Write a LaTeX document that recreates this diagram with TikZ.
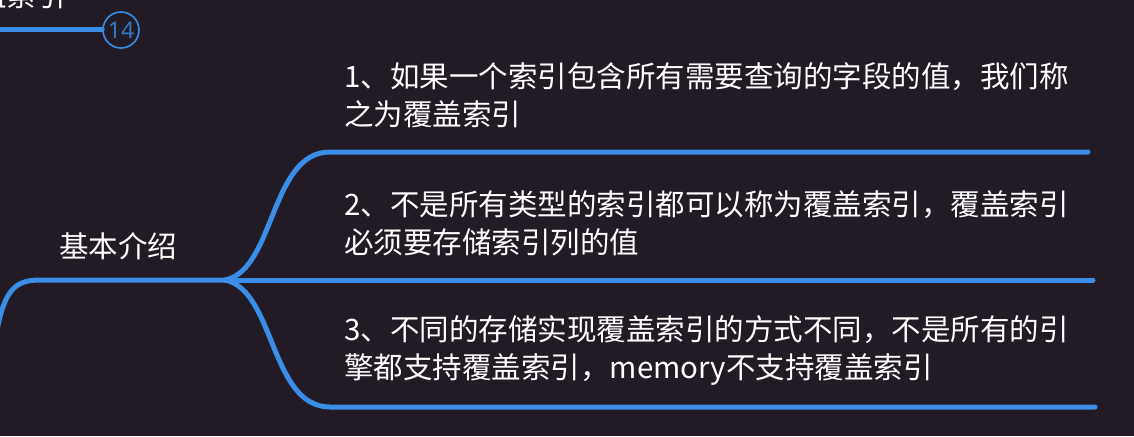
\documentclass[tikz,border=0pt]{standalone}
\usepackage{fontspec}
\newfontfamily\cjk{Noto Sans CJK SC}
\definecolor{bg}{HTML}{221A24}
\definecolor{br}{HTML}{3A8EE8}
\begin{document}
\begin{tikzpicture}[x=1pt,y=-1pt,
  branch/.style={draw=br,line width=5pt,line cap=round},
  txt/.style={text=white,font=\cjk\fontsize{29.5}{38.5}\selectfont,anchor=north west,inner sep=0pt,align=left},
  badge/.style={circle,draw=br,line width=1.6pt,minimum size=36pt,inner sep=0pt,text=br!85!black,font=\fontspec{Noto Sans}\fontsize{23}{24}\selectfont}]
\useasboundingbox (0,0) rectangle (1134,436);
\clip (0,0) rectangle (1134,436);
\fill[bg] (0,0) rectangle (1134,436);
% top partial branch
\node[txt,anchor=south east] (toptxt) at (66,9) {覆盖索引};
\node[badge] (b14) at (121,30) {14};
\coordinate (tl) at (-5,30);
\draw[branch] (tl) -- (b14.west);
% main branch
\coordinate (ls) at (-3,330);
\coordinate (j) at (225,280);
\draw[branch] (ls) .. controls (5,290) and (15,280) .. (40,280) -- (j);
\node[txt,anchor=center] (main) at (118,246) {基本介绍};
% sub branches
\coordinate (e1) at (1088,152);
\coordinate (e2) at (1093,280);
\coordinate (e3) at (1095,407);
\draw[branch] (j) .. controls (275,270) and (270,152) .. (330,152) -- (e1);
\draw[branch] (j) -- (e2);
\draw[branch] (j) .. controls (275,290) and (270,407) .. (330,407) -- (e3);
\node[txt] (t1) at (344,62) {1、如果一个索引包含所有需要查询的字段的值，我们称\\之为覆盖索引};
\node[txt] (t2) at (344,190) {2、不是所有类型的索引都可以称为覆盖索引，覆盖索引\\必须要存储索引列的值};
\node[txt] (t3) at (344,315) {3、不同的存储实现覆盖索引的方式不同，不是所有的引\\擎都支持覆盖索引，memory不支持覆盖索引};
\end{tikzpicture}
\end{document}
